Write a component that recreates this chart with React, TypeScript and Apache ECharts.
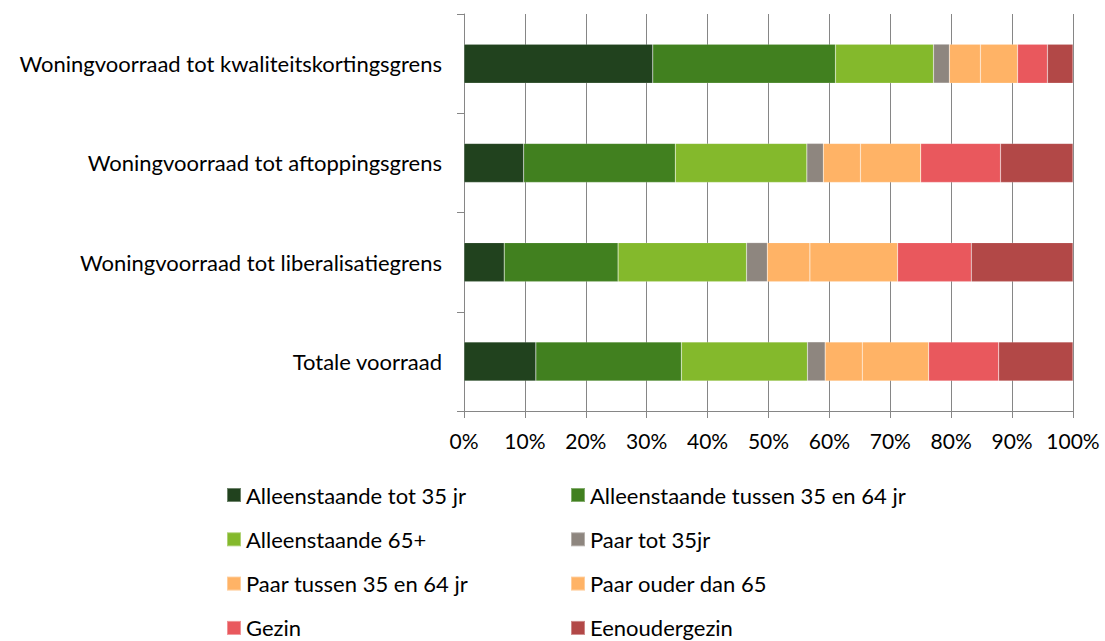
import React, { useEffect, useRef } from "react";
import * as echarts from "echarts";

const categories = [
  "Woningvoorraad tot kwaliteitskortingsgrens",
  "Woningvoorraad tot aftoppingsgrens",
  "Woningvoorraad tot liberalisatiegrens",
  "Totale voorraad",
];

const seriesNames = [
  "Alleenstaande tot 35 jr",
  "Alleenstaande tussen 35 en 64 jr",
  "Alleenstaande 65+",
  "Paar tot 35jr",
  "Paar tussen 35 en 64 jr",
  "Paar ouder dan 65",
  "Gezin",
  "Eenoudergezin",
];

const alleenTot35 = [31.0, 9.8, 6.6, 11.8];
const alleen35tot64 = [30.0, 24.9, 18.7, 23.9];
const alleen65plus = [16.1, 21.6, 21.1, 20.7];
const paarTot35 = [2.6, 2.7, 3.4, 2.9];
const paar35tot64 = [5.1, 6.1, 7.0, 6.1];
const paarOuder65 = [6.1, 9.9, 14.4, 10.9];
const gezin = [4.9, 13.1, 12.1, 11.5];
const eenoudergezin = [4.2, 11.9, 16.7, 12.2];

const seriesValues = [
  alleenTot35,
  alleen35tot64,
  alleen65plus,
  paarTot35,
  paar35tot64,
  paarOuder65,
  gezin,
  eenoudergezin,
];

const colors = [
  "#21421E",
  "#41801F",
  "#84B92C",
  "#8E867F",
  "#FFB366",
  "#FFB366",
  "#E9585D",
  "#B24847",
];

const xTicks = [0, 10, 20, 30, 40, 50, 60, 70, 80, 90, 100];

const FONT = "Lato, 'Open Sans', sans-serif";
const H = 680;

export default function App() {
  const ref = useRef<HTMLDivElement>(null);
  useEffect(() => {
    document.body.style.margin = "0";
    document.body.style.overflow = "hidden";
    const chart = echarts.init(ref.current!, null, { renderer: "svg" });
    const legendText = { fontFamily: FONT, fontSize: 22, color: "#000", lineHeight: 22 };
    const legendBase = {
      orient: "vertical",
      top: 484,
      padding: 0,
      icon: "rect",
      itemWidth: 14,
      itemHeight: 14,
      itemGap: 22.3,
      textStyle: legendText,
      selectedMode: false,
    };
    chart.setOption({
      animation: false,
      color: colors,
      textStyle: { fontFamily: FONT },
      grid: { left: 464, right: 32, top: 14, bottom: H - 411, containLabel: false },
      xAxis: {
        type: "value",
        min: xTicks[0],
        max: xTicks[xTicks.length - 1],
        interval: 10,
        axisLine: { show: true, lineStyle: { color: "#868686", width: 1 } },
        axisTick: { show: true, length: 7, lineStyle: { color: "#868686" } },
        splitLine: { show: true, lineStyle: { color: "#868686", width: 1 } },
        axisLabel: {
          formatter: "{value}%",
          color: "#000",
          fontFamily: FONT,
          fontSize: 21,
          margin: 19,
        },
      },
      yAxis: {
        type: "category",
        data: categories,
        inverse: true,
        axisLine: { show: true, lineStyle: { color: "#868686", width: 1 } },
        axisTick: { show: true, length: 7, alignWithLabel: false, lineStyle: { color: "#868686" } },
        axisLabel: { color: "#000", fontFamily: FONT, fontSize: 22, margin: 22 },
        splitLine: { show: false },
      },
      legend: [
        {
          ...legendBase,
          left: 226,
          data: [seriesNames[0], seriesNames[2], seriesNames[4], seriesNames[6]],
        },
        {
          ...legendBase,
          left: 570,
          data: [seriesNames[1], seriesNames[3], seriesNames[5], seriesNames[7]],
        },
      ],
      series: seriesNames.map((name, i) => ({
        name,
        type: "bar",
        stack: "total",
        barWidth: 39,
        data: seriesValues[i],
        itemStyle: { color: colors[i], borderColor: "rgba(255,255,255,0.35)", borderWidth: 0.5 },
        emphasis: { disabled: true },
      })),
    });
    return () => chart.dispose();
  }, []);
  return <div ref={ref} style={{ width: 1105, height: H }} />;
}
